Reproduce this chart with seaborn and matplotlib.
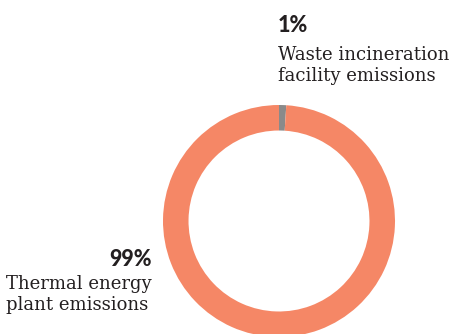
import matplotlib
matplotlib.use("Agg")
import matplotlib.pyplot as plt
import seaborn as sns

categories = ["Waste incineration facility emissions", "Thermal energy plant emissions"]
values = [1, 99]
pct_labels = ["1%", "99%"]
desc_labels = ["Waste incineration\nfacility emissions", "Thermal energy\nplant emissions"]
colors = ["#8a8a8a", "#f58766"]

sns.set_theme(style="white")
W, H = 453, 334
fig = plt.figure(figsize=(W / 100, H / 100), dpi=100)
fig.patch.set_facecolor("white")

cx, cy, r = 279, 221, 116
ax = fig.add_axes([(cx - r) / W, (H - cy - r) / H, 2 * r / W, 2 * r / H])
ax.pie(values, colors=colors, startangle=90, counterclock=False,
       wedgeprops=dict(width=0.22, edgecolor="none", linewidth=0), radius=1.0)
ax.set_xlim(-1, 1)
ax.set_ylim(-1, 1)
ax.set_aspect("equal")
ax.axis("off")
for p in ax.patches:
    p.set_clip_on(False)

dark = "#231f20"
def px(x, y):
    return x / W, 1 - y / H

bold_font = dict(family="Lato", weight="black", size=15.5, color=dark)
serif_font = dict(family="DejaVu Serif", size=13, color=dark, linespacing=1.2)

fig.text(*px(278, 32), pct_labels[0], ha="left", va="baseline", **bold_font)
fig.text(*px(278, 46), desc_labels[0], ha="left", va="top", **serif_font)

fig.text(*px(152, 266), pct_labels[1], ha="right", va="baseline", **bold_font)
fig.text(*px(152, 275), desc_labels[1], ha="right", va="top", multialignment="left", **serif_font)

fig.savefig("out.png", dpi=100)
